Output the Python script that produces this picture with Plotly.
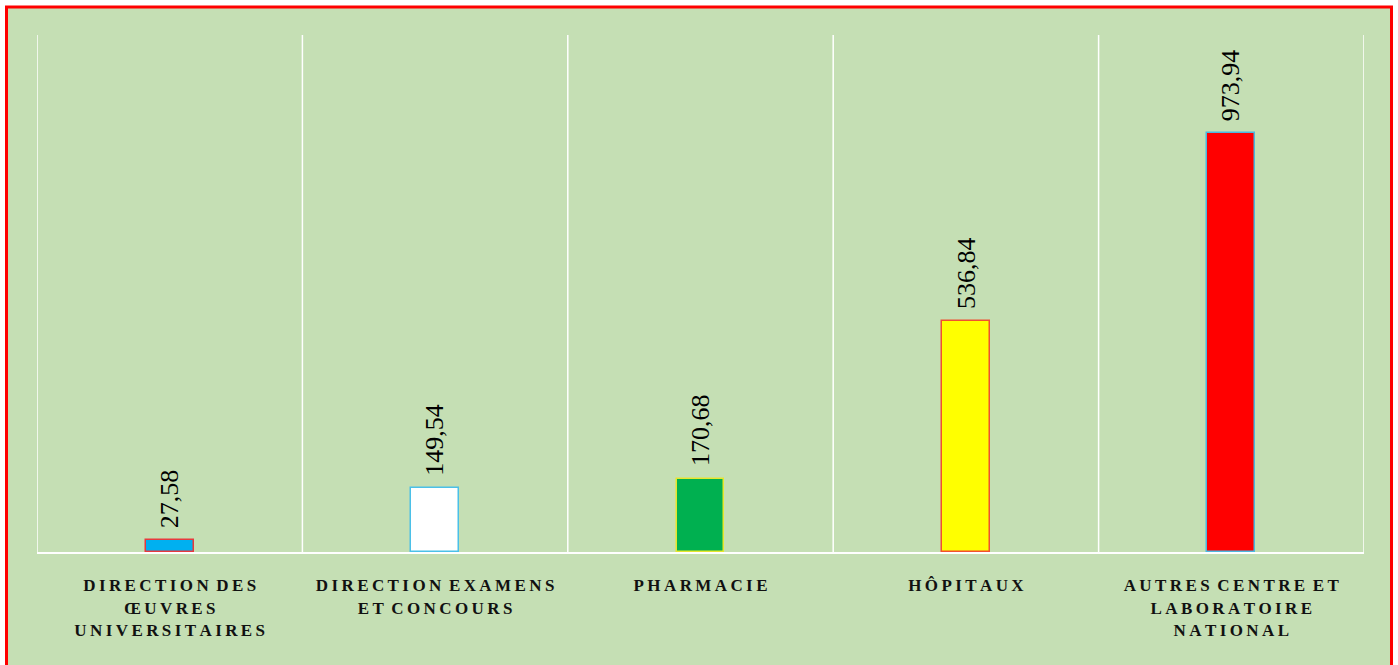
import plotly.graph_objects as go

categories = [
    "DIRECTION DES<br>ŒUVRES<br>UNIVERSITAIRES",
    "DIRECTION EXAMENS<br>ET CONCOURS",
    "PHARMACIE",
    "HÔPITAUX",
    "AUTRES CENTRE ET<br>LABORATOIRE<br>NATIONAL",
]
values = [27.58, 149.54, 170.68, 536.84, 973.94]
fill_colors = ["#00B0F0", "#FFFFFF", "#00B050", "#FFFF00", "#FF0000"]
border_colors = ["#E8383D", "#4BC0E8", "#E6E62E", "#F05030", "#4BB8E0"]


def spaced(label):
    lines = label.split("<br>")
    out = []
    for ln in lines:
        words = ln.split(" ")
        out.append(" \u2009".join("\u2009".join(list(w)) for w in words))
    return "<br>".join(out)


tick_text = [spaced(c) for c in categories]
x_ids = list(range(len(categories)))


def fr(v):
    return f"{v:.2f}".replace(".", ",")


fig = go.Figure()
fig.add_trace(go.Bar(
    x=x_ids,
    y=values,
    width=0.18,
    marker=dict(color=fill_colors, line=dict(color=border_colors, width=1.5)),
    hoverinfo="skip",
))

for xi, v in zip(x_ids, values):
    fig.add_annotation(
        x=xi, y=v, text=fr(v), textangle=-90, showarrow=False,
        xanchor="center", yanchor="bottom", yshift=10,
        font=dict(family="Liberation Serif, Times New Roman, serif", size=26, color="#000000"),
    )

W, H = 1398, 665
L, R, T, B = 37, 34, 35, 113
pw, ph = W - L - R, H - T - B


def px_x(p):
    return (p - L) / pw


def px_y(p):
    return (H - B - p) / ph


fig.add_shape(
    type="rect", xref="paper", yref="paper",
    x0=px_x(6.5), x1=px_x(1391.5), y0=px_y(680), y1=px_y(7),
    fillcolor="#C5DFB4", line=dict(color="#FF0000", width=3), layer="below",
)

fig.update_layout(
    width=W, height=H,
    margin=dict(l=L, r=R, t=T, b=B, pad=0),
    paper_bgcolor="#FFFFFF",
    plot_bgcolor="rgba(0,0,0,0)",
    showlegend=False,
    bargap=0,
    xaxis=dict(
        type="linear",
        range=[-0.5, 4.5],
        tickmode="array", tickvals=x_ids, ticktext=tick_text,
        showgrid=False, zeroline=False,
        showline=True, linecolor="#FFFFFF", linewidth=2,
        ticks="", ticklabelstandoff=17,
        tickfont=dict(family="Liberation Serif, Times New Roman, serif", size=17, color="#111111", weight="bold"),
    ),
    yaxis=dict(
        range=[0, 1201.7], showgrid=False, zeroline=False,
        showticklabels=False, showline=False, ticks="",
    ),
)

for b in [-0.5, 0.5, 1.5, 2.5, 3.5, 4.5]:
    fig.add_shape(
        type="line", xref="x", yref="paper", x0=b, x1=b, y0=0, y1=1,
        line=dict(color="#FFFFFF", width=1.5), layer="below",
    )

fig.write_html(
    "out.html",
    config={"displayModeBar": False},
    post_script="document.body.style.margin='0px';document.body.style.overflow='hidden';",
)
